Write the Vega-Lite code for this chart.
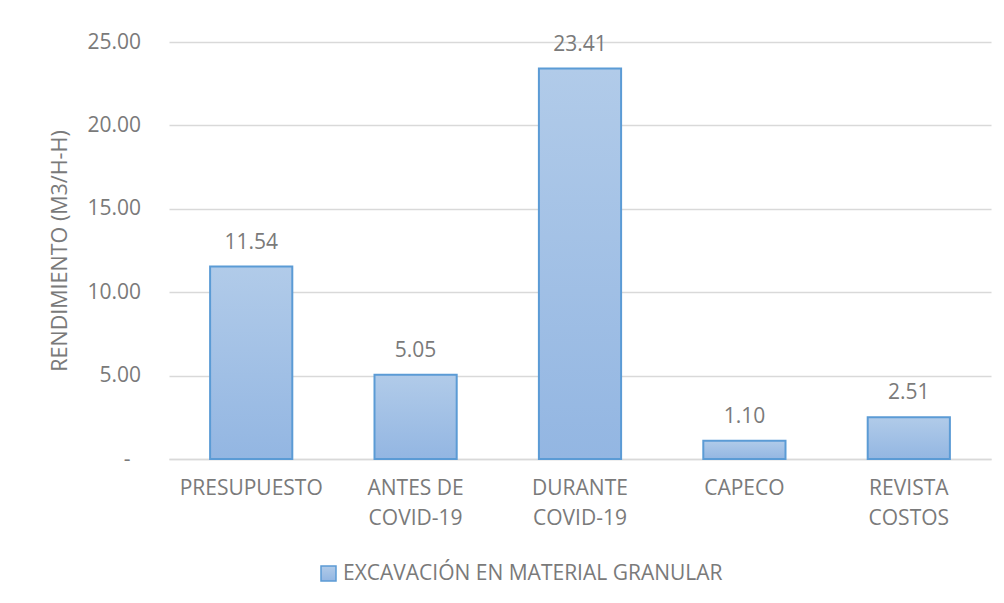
{
  "$schema": "https://vega.github.io/schema/vega-lite/v6.json",
  "width": 822,
  "height": 417,
  "autosize": {"type": "none"},
  "padding": {"left": 169, "top": 42, "right": 13, "bottom": 144},
  "background": "white",
  "config": {
    "view": {"stroke": null},
    "font": "Open Sans",
    "axis": {"labelFont": "Open Sans", "titleFont": "Open Sans", "labelColor": "#7a7a7a", "titleColor": "#7a7a7a"}
  },
  "data": {
    "values": [
      {"cat": "PRESUPUESTO", "valor": 11.54, "serie": "EXCAVACIÓN EN MATERIAL GRANULAR"},
      {"cat": "ANTES DE|COVID-19", "valor": 5.05, "serie": "EXCAVACIÓN EN MATERIAL GRANULAR"},
      {"cat": "DURANTE|COVID-19", "valor": 23.41, "serie": "EXCAVACIÓN EN MATERIAL GRANULAR"},
      {"cat": "CAPECO", "valor": 1.10, "serie": "EXCAVACIÓN EN MATERIAL GRANULAR"},
      {"cat": "REVISTA|COSTOS", "valor": 2.51, "serie": "EXCAVACIÓN EN MATERIAL GRANULAR"}
    ]
  },
  "encoding": {
    "x": {
      "field": "cat", "type": "nominal", "sort": null,
      "scale": {"paddingInner": 0.5, "paddingOuter": 0.25},
      "axis": {
        "title": null, "labelAngle": 0, "ticks": false,
        "domainColor": "#d9d9d9", "domainWidth": 1.5,
        "labelExpr": "split(datum.value, '|')",
        "labelFontSize": 21, "labelLineHeight": 30, "labelPadding": 18,
        "labelBaseline": "top"
      }
    },
    "y": {
      "field": "valor", "type": "quantitative",
      "scale": {"domain": [0, 25], "nice": false},
      "axis": {
        "title": "RENDIMIENTO (M3/H-H)",
        "titleFontSize": 21.5, "titleFontWeight": "normal",
        "titleAngle": -90, "titleX": -109, "titleY": 208.5,
        "titleAlign": "center", "titleBaseline": "middle",
        "values": [0, 5, 10, 15, 20, 25],
        "labelExpr": "datum.value == 0 ? '-' : format(datum.value, '.2f')",
        "labelFontSize": 21,
        "labelPadding": {"condition": {"test": "datum.value == 0", "value": 39}, "value": 28.5},
        "domain": false, "ticks": false,
        "gridColor": "#d9d9d9", "gridWidth": 1.5
      }
    }
  },
  "layer": [
    {
      "mark": {
        "type": "bar",
        "strokeWidth": 2,
        "fill": {
          "gradient": "linear", "x1": 0, "y1": 0, "x2": 0, "y2": 1,
          "stops": [
            {"offset": 0, "color": "#b1cbe9"},
            {"offset": 1, "color": "#93b6e2"}
          ]
        }
      },
      "encoding": {
        "stroke": {
          "field": "serie", "type": "nominal",
          "scale": {"range": ["#5b9bd5"]},
          "legend": {
            "title": null, "orient": "none", "legendX": 149, "legendY": 521,
            "symbolType": "square", "symbolSize": 225, "symbolFillColor": "#a4c2e6",
            "symbolStrokeWidth": 1.5,
            "labelFont": "Open Sans", "labelFontSize": 21, "labelColor": "#7a7a7a",
            "labelOffset": 4, "labelLimit": 600
          }
        }
      }
    },
    {
      "mark": {"type": "text", "dy": -18, "baseline": "alphabetic", "fontSize": 21, "color": "#7a7a7a", "font": "Open Sans"},
      "encoding": {
        "text": {"field": "valor", "type": "quantitative", "format": ".2f"}
      }
    }
  ]
}
